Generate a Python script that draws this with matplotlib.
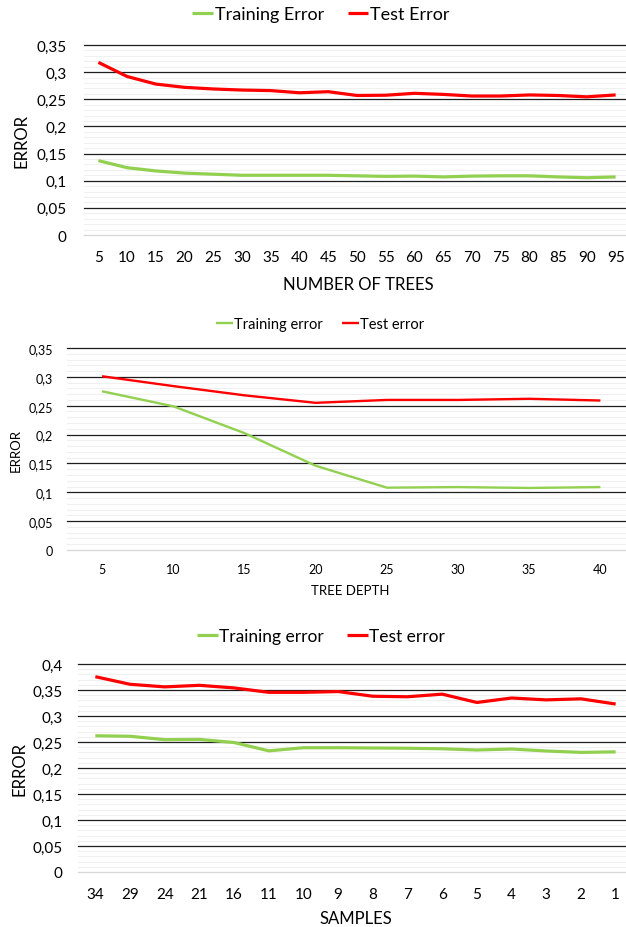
import numpy as np
import matplotlib
matplotlib.use("Agg")
import matplotlib.pyplot as plt

plt.rcParams['font.family'] = ['Lato', 'DejaVu Sans']

W, H = 626, 928
GREEN = '#92D050'
RED = '#FF0000'

# ---- Data -------------------------------------------------------------
trees = ['5', '10', '15', '20', '25', '30', '35', '40', '45', '50',
         '55', '60', '65', '70', '75', '80', '85', '90', '95']
trees_train = [0.137, 0.124, 0.118, 0.114, 0.112, 0.110, 0.110, 0.110, 0.110, 0.109,
               0.108, 0.1085, 0.107, 0.1085, 0.109, 0.109, 0.107, 0.1055, 0.107]
trees_test = [0.318, 0.292, 0.278, 0.272, 0.269, 0.267, 0.266, 0.262, 0.264, 0.257,
              0.2575, 0.261, 0.259, 0.256, 0.256, 0.258, 0.257, 0.2545, 0.258]

depth = ['5', '10', '15', '20', '25', '30', '35', '40']
depth_train = [0.275, 0.249, 0.2025, 0.146, 0.108, 0.109, 0.1075, 0.109]
depth_test = [0.301, 0.284, 0.268, 0.255, 0.260, 0.260, 0.262, 0.259]

samples = ['34', '29', '24', '21', '16', '11', '10', '9', '8', '7',
           '6', '5', '4', '3', '2', '1']
samples_train = [0.262, 0.261, 0.2545, 0.255, 0.249, 0.233, 0.239, 0.239, 0.2385, 0.238,
                 0.237, 0.2346, 0.2365, 0.2327, 0.230, 0.231]
samples_test = [0.3756, 0.361, 0.356, 0.359, 0.354, 0.3455, 0.3455, 0.347, 0.338, 0.337,
                0.342, 0.326, 0.3346, 0.331, 0.333, 0.323]

y_ticks_035 = [0, 0.05, 0.1, 0.15, 0.2, 0.25, 0.3, 0.35]
y_labels_035 = ['0', '0,05', '0,1', '0,15', '0,2', '0,25', '0,3', '0,35']
y_ticks_040 = [0, 0.05, 0.1, 0.15, 0.2, 0.25, 0.3, 0.35, 0.4]
y_labels_040 = ['0', '0,05', '0,1', '0,15', '0,2', '0,25', '0,3', '0,35', '0,4']


def px_axes(left, right, top, bottom):
    return [left / W, 1 - bottom / H, (right - left) / W, (bottom - top) / H]


fig = plt.figure(figsize=(W / 100, H / 100), dpi=100)


def panel(rect, cats, train, test, yticks, ylabels, lw, fs_tick, ypad, xpad,
          legend_names, fs_leg, leg_xy, xlabel, xlab_xy, ylab_xy, fs_lab, handle_len):
    ax = fig.add_axes(px_axes(*rect))
    n = len(cats)
    x = np.arange(n)
    ymax = yticks[-1]
    ax.set_xlim(-0.5, n - 0.5)
    ax.set_ylim(0, ymax)
    # light minor grid every 0.01
    minor = np.round(np.arange(0.01, ymax, 0.01), 4)
    minor = [m for m in minor if not np.any(np.isclose(m, yticks))]
    for m in minor:
        ax.axhline(m, color='#f0f0f0', lw=0.8, zorder=0)
    for t in yticks:
        if t == 0:
            ax.axhline(t, color='#d9d9d9', lw=1.0, zorder=1, clip_on=False)
        else:
            ax.axhline(t, color='#1e1e1e', lw=0.9, zorder=1, clip_on=False)
    l1, = ax.plot(x, train, color=GREEN, lw=lw, zorder=3, solid_capstyle='butt',
                  label=legend_names[0])
    l2, = ax.plot(x, test, color=RED, lw=lw, zorder=3, solid_capstyle='butt',
                  label=legend_names[1])
    ax.set_xticks(x)
    ax.set_xticklabels(cats)
    ax.set_yticks(yticks)
    ax.set_yticklabels(ylabels)
    ax.tick_params(axis='both', length=0, labelsize=fs_tick, colors='#000000')
    ax.tick_params(axis='y', pad=ypad)
    ax.tick_params(axis='x', pad=xpad)
    for s in ax.spines.values():
        s.set_visible(False)
    fig.legend(handles=[l1, l2], loc='center', ncol=2, frameon=False,
               bbox_to_anchor=(leg_xy[0] / W, 1 - leg_xy[1] / H),
               fontsize=fs_leg, handlelength=handle_len, handletextpad=0.1,
               columnspacing=1.3, borderaxespad=0, borderpad=0)
    fig.text(xlab_xy[0] / W, 1 - xlab_xy[1] / H, xlabel, ha='center', va='center',
             fontsize=fs_lab)
    fig.text(ylab_xy[0] / W, 1 - ylab_xy[1] / H, 'ERROR', ha='center', va='center',
             rotation=90, fontsize=fs_lab)
    return ax


panel((84, 630, 46, 236), trees, trees_train, trees_test, y_ticks_035, y_labels_035,
      lw=2.3, fs_tick=11, ypad=12.5, xpad=10.5,
      legend_names=['Training Error', 'Test Error'], fs_leg=13, leg_xy=(321, 15),
      xlabel='NUMBER OF TREES', xlab_xy=(358, 285), ylab_xy=(21, 141), fs_lab=12,
      handle_len=1.15)

panel((66.5, 636, 349, 551), depth, depth_train, depth_test, y_ticks_035, y_labels_035,
      lw=1.7, fs_tick=9, ypad=9.5, xpad=9.5,
      legend_names=['Training error', 'Test error'], fs_leg=10.5, leg_xy=(320, 325),
      xlabel='TREE DEPTH', xlab_xy=(350, 591), ylab_xy=(16, 451), fs_lab=9.5,
      handle_len=1.15)

panel((78, 633, 665, 873), samples, samples_train, samples_test, y_ticks_040, y_labels_040,
      lw=2.3, fs_tick=11, ypad=11, xpad=10.5,
      legend_names=['Training error', 'Test error'], fs_leg=12.5, leg_xy=(321, 637),
      xlabel='SAMPLES', xlab_xy=(356, 919), ylab_xy=(20, 769), fs_lab=12,
      handle_len=1.2)

fig.savefig('out.png', dpi=100, facecolor='white')
